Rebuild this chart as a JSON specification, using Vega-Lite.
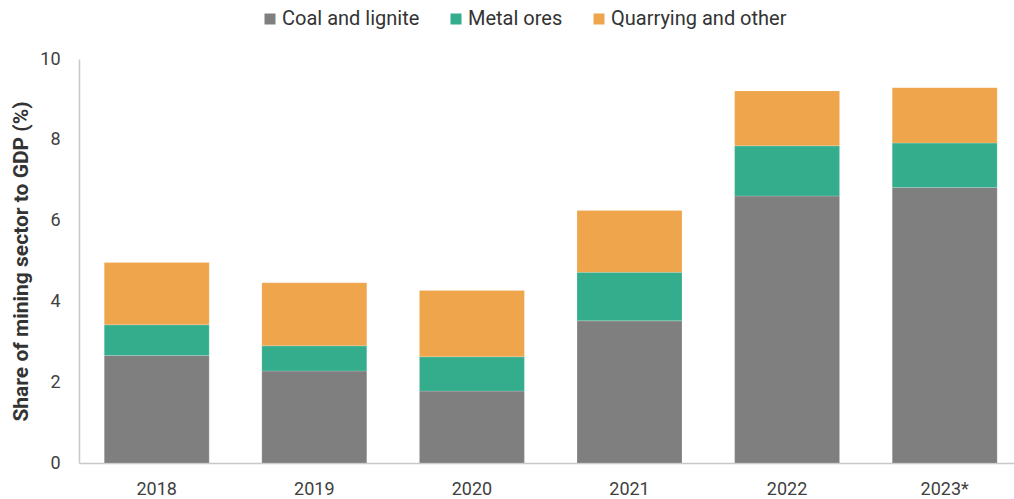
{
  "$schema": "https://vega.github.io/schema/vega-lite/v6.json",
  "autosize": "none",
  "padding": {"left": 79, "top": 59, "right": 0, "bottom": 36},
  "width": 935,
  "height": 404,
  "background": "white",
  "config": {"view": {"stroke": null}},
  "data": {
    "values": [
      {"year": "2018", "sector": "Coal and lignite", "value": 2.66},
      {"year": "2018", "sector": "Metal ores", "value": 0.76},
      {"year": "2018", "sector": "Quarrying and other", "value": 1.54},
      {"year": "2019", "sector": "Coal and lignite", "value": 2.28},
      {"year": "2019", "sector": "Metal ores", "value": 0.62},
      {"year": "2019", "sector": "Quarrying and other", "value": 1.56},
      {"year": "2020", "sector": "Coal and lignite", "value": 1.78},
      {"year": "2020", "sector": "Metal ores", "value": 0.85},
      {"year": "2020", "sector": "Quarrying and other", "value": 1.64},
      {"year": "2021", "sector": "Coal and lignite", "value": 3.52},
      {"year": "2021", "sector": "Metal ores", "value": 1.20},
      {"year": "2021", "sector": "Quarrying and other", "value": 1.53},
      {"year": "2022", "sector": "Coal and lignite", "value": 6.61},
      {"year": "2022", "sector": "Metal ores", "value": 1.24},
      {"year": "2022", "sector": "Quarrying and other", "value": 1.36},
      {"year": "2023*", "sector": "Coal and lignite", "value": 6.82},
      {"year": "2023*", "sector": "Metal ores", "value": 1.10},
      {"year": "2023*", "sector": "Quarrying and other", "value": 1.37}
    ]
  },
  "mark": {"type": "bar", "stroke": "#ffffff", "strokeOpacity": 0.35, "strokeWidth": 0.5},
  "encoding": {
    "x": {
      "field": "year", "type": "nominal", "sort": null,
      "scale": {"paddingInner": 0.334, "paddingOuter": 0.1335, "align": 0.6},
      "axis": {
        "title": null, "labelAngle": 0, "ticks": false,
        "domainColor": "#c8c8c8", "domainWidth": 1.5,
        "labelFont": "Roboto", "labelFontSize": 18,
        "labelColor": "#404040", "labelPadding": 17
      }
    },
    "y": {
      "field": "value", "type": "quantitative", "stack": "zero",
      "scale": {"domain": [0, 10]},
      "axis": {
        "title": "Share of mining sector to GDP (%)",
        "titleFont": "Roboto", "titleFontSize": 21, "titleFontWeight": "bold",
        "titleColor": "#333333", "titlePadding": 8,
        "values": [0, 2, 4, 6, 8, 10], "grid": false, "ticks": false,
        "domainColor": "#c8c8c8", "domainWidth": 1.5,
        "labelFont": "Roboto", "labelFontSize": 18,
        "labelColor": "#404040", "labelPadding": 19
      }
    },
    "color": {
      "field": "sector", "type": "nominal",
      "sort": ["Coal and lignite", "Metal ores", "Quarrying and other"],
      "scale": {
        "domain": ["Coal and lignite", "Metal ores", "Quarrying and other"],
        "range": ["#7f7f7f", "#33ad8c", "#efa54b"]
      },
      "legend": {
        "title": null, "orient": "none", "direction": "horizontal",
        "legendX": 181, "legendY": -50,
        "symbolType": "square", "symbolSize": 121, "symbolStrokeWidth": 0,
        "labelFont": "Roboto", "labelFontSize": 20, "labelLimit": 400,
        "labelColor": "#333333", "labelOffset": 2, "columnPadding": 26
      }
    },
    "order": {"field": "sector", "sort": "ascending"}
  }
}
